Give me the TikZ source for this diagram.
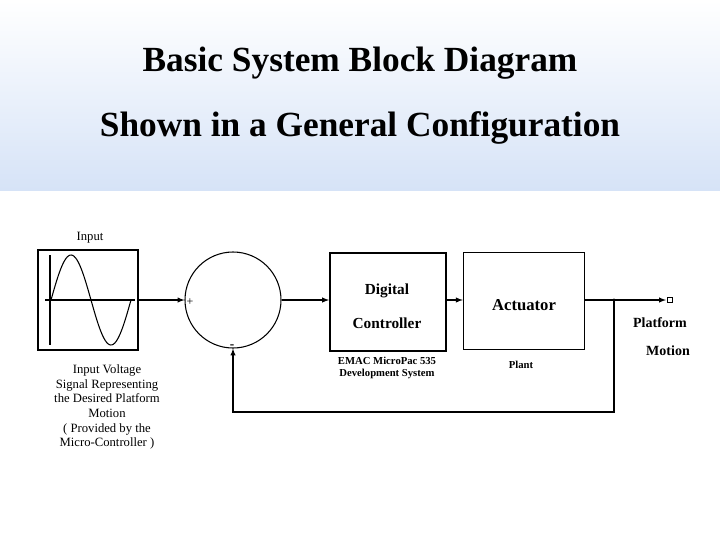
\documentclass[tikz,border=0pt]{standalone}
\usepackage{fontspec}
\setmainfont{Liberation Serif}
\usetikzlibrary{positioning}
\definecolor{band-blue}{HTML}{D6E3F7}

\begin{document}
\begin{tikzpicture}[x=0.75pt, y=-0.75pt,
  block/.style={draw, line width=0.9pt, minimum width=87pt, minimum height=74pt},
  label only/.style={inner sep=1pt, align=center},
  caption/.style={label only, font=\fontsize{8.5}{10}\selectfont},
  wire/.style={line width=0.8pt}]
\useasboundingbox (0,0) rectangle (720,540);
\shade[top color=white, bottom color=band-blue] (0,0) rectangle (720,190);
\node[label only, font=\fontsize{26.5}{30}\selectfont\bfseries] (title-a) at (360,63) {Basic System Block Diagram};
\node[label only, font=\fontsize{26.5}{30}\selectfont\bfseries] (title-b) at (360,128) {Shown in a General Configuration};
% input signal
\node[draw, line width=1.1pt, minimum width=75pt, minimum height=75pt] (input) at (88,300) {};
\node[caption, font=\fontsize{9.5}{11}\selectfont] (input-title) at (90,238) {Input};
\draw[line width=1.3pt] (50,255) -- (50,345);
\draw[wire] (45,300) -- (135,300);
\draw[wire, domain=0:360, samples=60] plot ({51+\x/360*80}, {300-45*sin(\x)});
\node[caption, font=\fontsize{9.5}{11}\selectfont] (input-text) at (107,407)
  {Input Voltage\\Signal Representing\\the Desired Platform\\Motion\\( Provided by the\\Micro-Controller )};
% summing junction
\node[draw, circle, wire, minimum size=72pt, inner sep=0pt] (sum) at (233,300) {};
\node[label only, font=\small] (plus) at (190,302) {+};
\node[label only, font=\bfseries] (minus) at (232,347) {-};
% blocks
\node[block, line width=1.4pt] (ctrl) at (388,302) {};
\node[label only, font=\fontsize{11.5}{13}\selectfont\bfseries] (ctrl-a) at (387,291) {Digital};
\node[label only, font=\fontsize{11.5}{13}\selectfont\bfseries] (ctrl-b) at (387,323) {Controller};
\node[caption, font=\fontsize{8}{9.5}\selectfont\bfseries] (ctrl-text) at (387,368) {EMAC MicroPac 535\\Development System};
\node[block, wire, minimum width=91pt, minimum height=73pt] (act) at (524,301) {};
\node[label only, font=\fontsize{12.5}{14}\selectfont\bfseries] (act-label) at (524,305) {Actuator};
\node[caption, font=\fontsize{8}{9.5}\selectfont\bfseries] (act-text) at (521,365) {Plant};
% output
\coordinate (tap) at (614,300);
\coordinate (out) at (666,300);
\node[draw, wire, minimum size=4pt, inner sep=0pt] (port) at (670,300) {};
\node[label only, font=\fontsize{10.5}{12}\selectfont\bfseries] (out-a) at (660,323) {Platform};
\node[label only, font=\fontsize{10.5}{12}\selectfont\bfseries] (out-b) at (668,351) {Motion};
% connectors
\draw[wire, -latex] (input.east |- sum.west) -- (sum.west);
\draw[wire, -latex] (sum.east) -- (ctrl.west |- sum.east);
\draw[wire, -latex] (ctrl.east |- tap) -- (act.west |- tap);
\draw[wire] (act.east |- tap) -- (tap);
\draw[wire, -latex] (tap) -- (out);
\fill (tap) circle (1.3pt);
\draw[wire, -latex] (tap) -- (614,412) -| (sum.south);
\end{tikzpicture}
\end{document}
